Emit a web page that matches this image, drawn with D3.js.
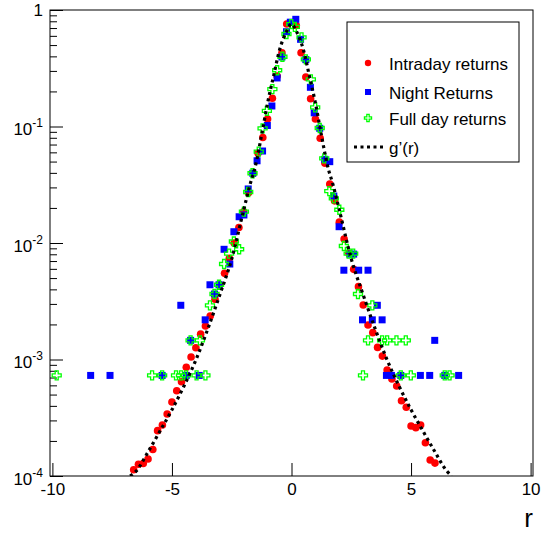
<!DOCTYPE html>
<html>
<head>
<meta charset="utf-8">
<script src="https://cdn.jsdelivr.net/npm/d3@7"></script>
<style>
  body { margin: 0; background: #fff; }
  text { font-family: "Liberation Sans", Arial, sans-serif; }
</style>
</head>
<body>
<div class="chart"></div>
<script>
// tick values
var xTicks = [-10, -5, 0, 5, 10];
var yTicks = [1e-4, 1e-3, 1e-2, 1e-1, 1];

// intraday returns (red dots)
var intradayR = [-6.6, -6.4, -6.2, -6.0, -5.8, -5.6, -5.4, -5.2, -5.0, -4.8, -4.6, -4.4, -4.2, -4.0, -3.8, -3.6, -3.4,
  -3.2, -3.0, -2.8, -2.6, -2.4, -2.2, -2.0, -1.8, -1.6, -1.4, -1.2, -1.0, -0.8, -0.6, -0.4, -0.2,
  0.2, 0.4, 0.6, 0.8, 1.0, 1.2, 1.4, 1.6, 1.8, 2.0, 2.2, 2.4, 2.6, 2.8, 3.0, 3.2, 3.4, 3.6, 3.8, 4.0,
  4.2, 4.4, 4.6, 4.8, 5.0, 5.2, 5.4, 5.6, 5.8, 6.0];
var intradayP = [1.13e-4, 1.26e-4, 1.28e-4, 1.40e-4, 1.69e-4, 2.45e-4, 2.74e-4, 3.41e-4, 4.32e-4, 5.40e-4, 6.44e-4,
  8.57e-4, 1.05e-3, 1.26e-3, 1.65e-3, 1.94e-3, 2.36e-3, 3.29e-3, 4.36e-3, 5.49e-3, 7.40e-3, 0.0100, 0.0136,
  0.0185, 0.0270, 0.0396, 0.0589, 0.0805, 0.116, 0.175, 0.271, 0.430, 0.758,
  0.736, 0.430, 0.266, 0.173, 0.116, 0.0792, 0.0483, 0.0321, 0.0230, 0.0151, 0.0108, 8.16e-3, 5.94e-3,
  4.22e-3, 2.94e-3, 1.98e-3, 1.70e-3, 1.27e-3, 1.07e-3, 8.13e-4, 6.80e-4, 5.92e-4, 4.43e-4, 3.89e-4,
  2.69e-4, 2.60e-4, 2.74e-4, 1.93e-4, 1.37e-4, 1.29e-4];

// night returns (blue squares)
var nightR = [-8.40, -7.59, -5.41, -4.63, -4.40, -4.22, -3.86, -3.61, -3.41, -3.22, -3.03, -2.82, -2.58, -2.41,
  -2.19, -1.99, -1.81, -1.62, -1.44, -1.21, -1.01, -0.82, -0.60, -0.40, -0.21, -0.05, 0.18, 0.38, 0.60,
  0.79, 0.95, 1.18, 1.39, 1.60, 1.77, 1.99, 2.19, 2.44, 2.60, 2.81, 2.97, 3.20, 3.38, 3.59, 3.79, 3.97,
  4.18, 4.57, 5.39, 5.78, 5.99, 6.41, 6.99];
var nightP = [7.3e-4, 7.3e-4, 7.3e-4, 2.92e-3, 7.3e-4, 1.46e-3, 7.3e-4, 2.19e-3, 4.38e-3, 3.65e-3, 4.38e-3,
  8.83e-3, 6.6e-3, 0.0125, 0.0168, 0.0174, 0.0291, 0.0397, 0.0508, 0.0616, 0.102, 0.150, 0.261, 0.395,
  0.651, 0.786, 0.832, 0.560, 0.375, 0.217, 0.131, 0.0965, 0.0523, 0.0499, 0.0253, 0.0138, 5.84e-3,
  8.03e-3, 8.03e-3, 5.84e-3, 2.19e-3, 5.84e-3, 2.19e-3, 2.92e-3, 2.19e-3, 7.3e-4, 7.3e-4, 7.3e-4,
  7.3e-4, 7.3e-4, 1.46e-3, 7.3e-4, 7.3e-4];

// full day returns (green open crosses)
var fullR = [-9.82, -5.83, -5.41, -4.83, -4.62, -4.41, -4.22, -3.97, -3.83, -3.60, -3.41, -3.22, -3.03, -2.82,
  -2.61, -2.41, -2.19, -1.99, -1.81, -1.63, -1.37, -1.21, -1.03, -0.80, -0.60, -0.38, -0.21, -0.01, 0.14,
  0.42, 0.60, 0.81, 0.99, 1.18, 1.37, 1.58, 1.77, 2.00, 2.19, 2.39, 2.58, 2.78, 2.99, 3.20, 3.38, 3.79,
  4.00, 4.39, 4.57, 4.78, 4.99, 6.41, 6.61];
var fullP = [7.3e-4, 7.3e-4, 7.3e-4, 7.3e-4, 7.3e-4, 7.3e-4, 1.46e-3, 7.3e-4, 1.46e-3, 7.3e-4, 2.92e-3, 3.65e-3,
  4.38e-3, 6.6e-3, 8.1e-3, 0.0103, 8.84e-3, 0.0186, 0.0274, 0.0397, 0.0608, 0.0965, 0.136, 0.209, 0.304,
  0.397, 0.622, 0.755, 0.715, 0.583, 0.377, 0.254, 0.146, 0.0971, 0.0533, 0.0279, 0.0242, 0.0193, 9.42e-3,
  8.1e-3, 8.1e-3, 3.65e-3, 7.3e-4, 1.46e-3, 2.92e-3, 1.46e-3, 1.46e-3, 1.46e-3, 7.3e-4, 1.46e-3, 7.3e-4,
  7.3e-4, 7.3e-4];

// g'(r) curve (dotted)
var curveR = [-6.75, -6.5, -6.0, -5.5, -5.0, -4.5, -4.0, -3.5, -3.0, -2.5, -2.0, -1.75, -1.5, -1.25, -1.0, -0.75,
  -0.5, -0.2, 0, 0.2, 0.5, 0.75, 1.0, 1.25, 1.5, 1.75, 2.0, 2.5, 3.0, 3.5, 4.0, 4.5, 5.0, 5.5, 6.0, 6.5, 6.7];
var curveG = [1.0e-4, 1.10e-4, 1.61e-4, 2.43e-4, 3.7e-4, 5.9e-4, 9.9e-4, 1.83e-3, 3.58e-3, 7.3e-3, 0.0192,
  0.0309, 0.0467, 0.0845, 0.159, 0.271, 0.454, 0.660, 0.758, 0.660, 0.454, 0.271, 0.159, 0.0845, 0.0467,
  0.0309, 0.0192, 7.3e-3, 3.58e-3, 1.83e-3, 9.9e-4, 5.9e-4, 3.7e-4, 2.43e-4, 1.61e-4, 1.10e-4, 1.0e-4];

var legendNames = ['Intraday returns', 'Night Returns', 'Full day returns', "g\u2019(r)"];

var margin = { top: 10, right: 8, bottom: 58, left: 50 };
var fullWidth = 541;
var fullHeight = 534;
var width = fullWidth - margin.left - margin.right;
var height = fullHeight - margin.top - margin.bottom;

var svg = d3.select('.chart')
  .append('svg')
  .attr('width', fullWidth)
  .attr('height', fullHeight)
  .style('background', '#fff')
  .append('g')
  .attr('transform', `translate(${margin.left}, ${margin.top})`);

var xScale = d3.scaleLinear().domain([-10.1, 10.1]).range([0, width]);
var yScale = d3.scaleLog().domain([1e-4, 1]).range([height, 0]);

svg.append('clipPath').attr('id', 'clip')
  .append('rect').attr('width', width).attr('height', height);

// frame
svg.append('rect')
  .attr('width', width).attr('height', height)
  .style('fill', 'none').style('stroke', '#000').style('stroke-width', 1);

// x axis, ticks pointing inward
var xAxis = svg.append('g')
  .attr('transform', `translate(0, ${height})`)
  .call(d3.axisBottom(xScale).tickValues(xTicks).tickSize(-13).tickPadding(7)
    .tickFormat(d => d < 0 ? '-' + Math.abs(d) : '' + d));
xAxis.select('.domain').remove();
xAxis.selectAll('text').style('font-size', '17px').style('fill', '#000')
  .attr('font-family', '"Liberation Sans", Arial, sans-serif');

// y axis minor ticks
var minors = [];
yTicks.slice(0, -1).forEach(t => {
  for (var k = 2; k <= 9; k++) minors.push(t * k);
});
svg.append('g')
  .call(d3.axisLeft(yScale).tickValues(minors).tickSize(-7).tickFormat(''))
  .select('.domain').remove();

// y axis major ticks with 10^n labels
var yAxis = svg.append('g')
  .call(d3.axisLeft(yScale).tickValues(yTicks).tickSize(-13).tickFormat(''));
yAxis.select('.domain').remove();

yTicks.forEach(t => {
  var e = Math.round(Math.log10(t));
  var txt = svg.append('text')
    .attr('x', -7)
    .attr('y', yScale(t))
    .style('font-size', '17px')
    .style('text-anchor', 'end');
  if (e === 0) {
    txt.attr('dy', 6).text('1');
  } else {
    txt.attr('dy', 8.5);
    txt.append('tspan').text('10');
    txt.append('tspan').attr('dy', -8).style('font-size', '12px').text(String(e));
  }
});

// axis title
svg.append('text')
  .attr('x', width)
  .attr('y', height + 51)
  .style('font-size', '26px')
  .style('text-anchor', 'end')
  .text('r');

var plot = svg.append('g').attr('clip-path', 'url(#clip)');

// red dots
plot.selectAll('.intra')
  .data(intradayR.map((r, i) => ({ r: r, p: intradayP[i] })))
  .enter().append('circle')
  .attr('class', 'intra')
  .attr('cx', d => xScale(d.r))
  .attr('cy', d => yScale(d.p))
  .attr('r', 3.8)
  .style('fill', '#ff0000');

// blue squares
var square = d3.symbol().type(d3.symbolSquare).size(49);
plot.selectAll('.night')
  .data(nightR.map((r, i) => ({ r: r, p: nightP[i] })))
  .enter().append('path')
  .attr('class', 'night')
  .attr('d', square)
  .attr('transform', d => `translate(${xScale(d.r)}, ${yScale(d.p)})`)
  .style('fill', '#0000ff');

// green open crosses
var cross = d3.symbol().type(d3.symbolCross).size(45);
plot.selectAll('.full')
  .data(fullR.map((r, i) => ({ r: r, p: fullP[i] })))
  .enter().append('path')
  .attr('class', 'full')
  .attr('d', cross)
  .attr('transform', d => `translate(${xScale(d.r)}, ${yScale(d.p)})`)
  .style('fill', 'none')
  .style('stroke', '#00ff00')
  .style('stroke-width', 1.3);

// g'(r)
var line = d3.line()
  .x(d => xScale(d.r))
  .y(d => yScale(d.g))
  .curve(d3.curveMonotoneX);

plot.append('path')
  .datum(curveR.map((r, i) => ({ r: r, g: curveG[i] })))
  .attr('d', line)
  .style('fill', 'none')
  .style('stroke', '#000')
  .style('stroke-width', 3.2)
  .style('stroke-dasharray', '3,3.5');

// legend
var legend = svg.append('g').attr('transform', 'translate(297, 12)');
legend.append('rect')
  .attr('width', 172).attr('height', 140)
  .style('fill', '#fff').style('stroke', '#000').style('stroke-width', 1);

var rowY = [41, 70, 96, 125];
legend.append('circle').attr('cx', 21).attr('cy', rowY[0]).attr('r', 3.2).style('fill', '#ff0000');
legend.append('path').attr('d', d3.symbol().type(d3.symbolSquare).size(36)())
  .attr('transform', `translate(21, ${rowY[1]})`).style('fill', '#0000ff');
legend.append('path').attr('d', d3.symbol().type(d3.symbolCross).size(28)())
  .attr('transform', `translate(21, ${rowY[2]})`)
  .style('fill', 'none').style('stroke', '#00ff00').style('stroke-width', 1.3);
legend.append('line')
  .attr('x1', 7).attr('x2', 36).attr('y1', rowY[3]).attr('y2', rowY[3])
  .style('stroke', '#000').style('stroke-width', 3.2).style('stroke-dasharray', '3,3.5');

legend.selectAll('.legtext')
  .data(legendNames)
  .enter().append('text')
  .attr('class', 'legtext')
  .attr('x', 42)
  .attr('y', (d, i) => rowY[i] + 7)
  .style('font-size', '17px')
  .text(d => d);
</script>
</body>
</html>
